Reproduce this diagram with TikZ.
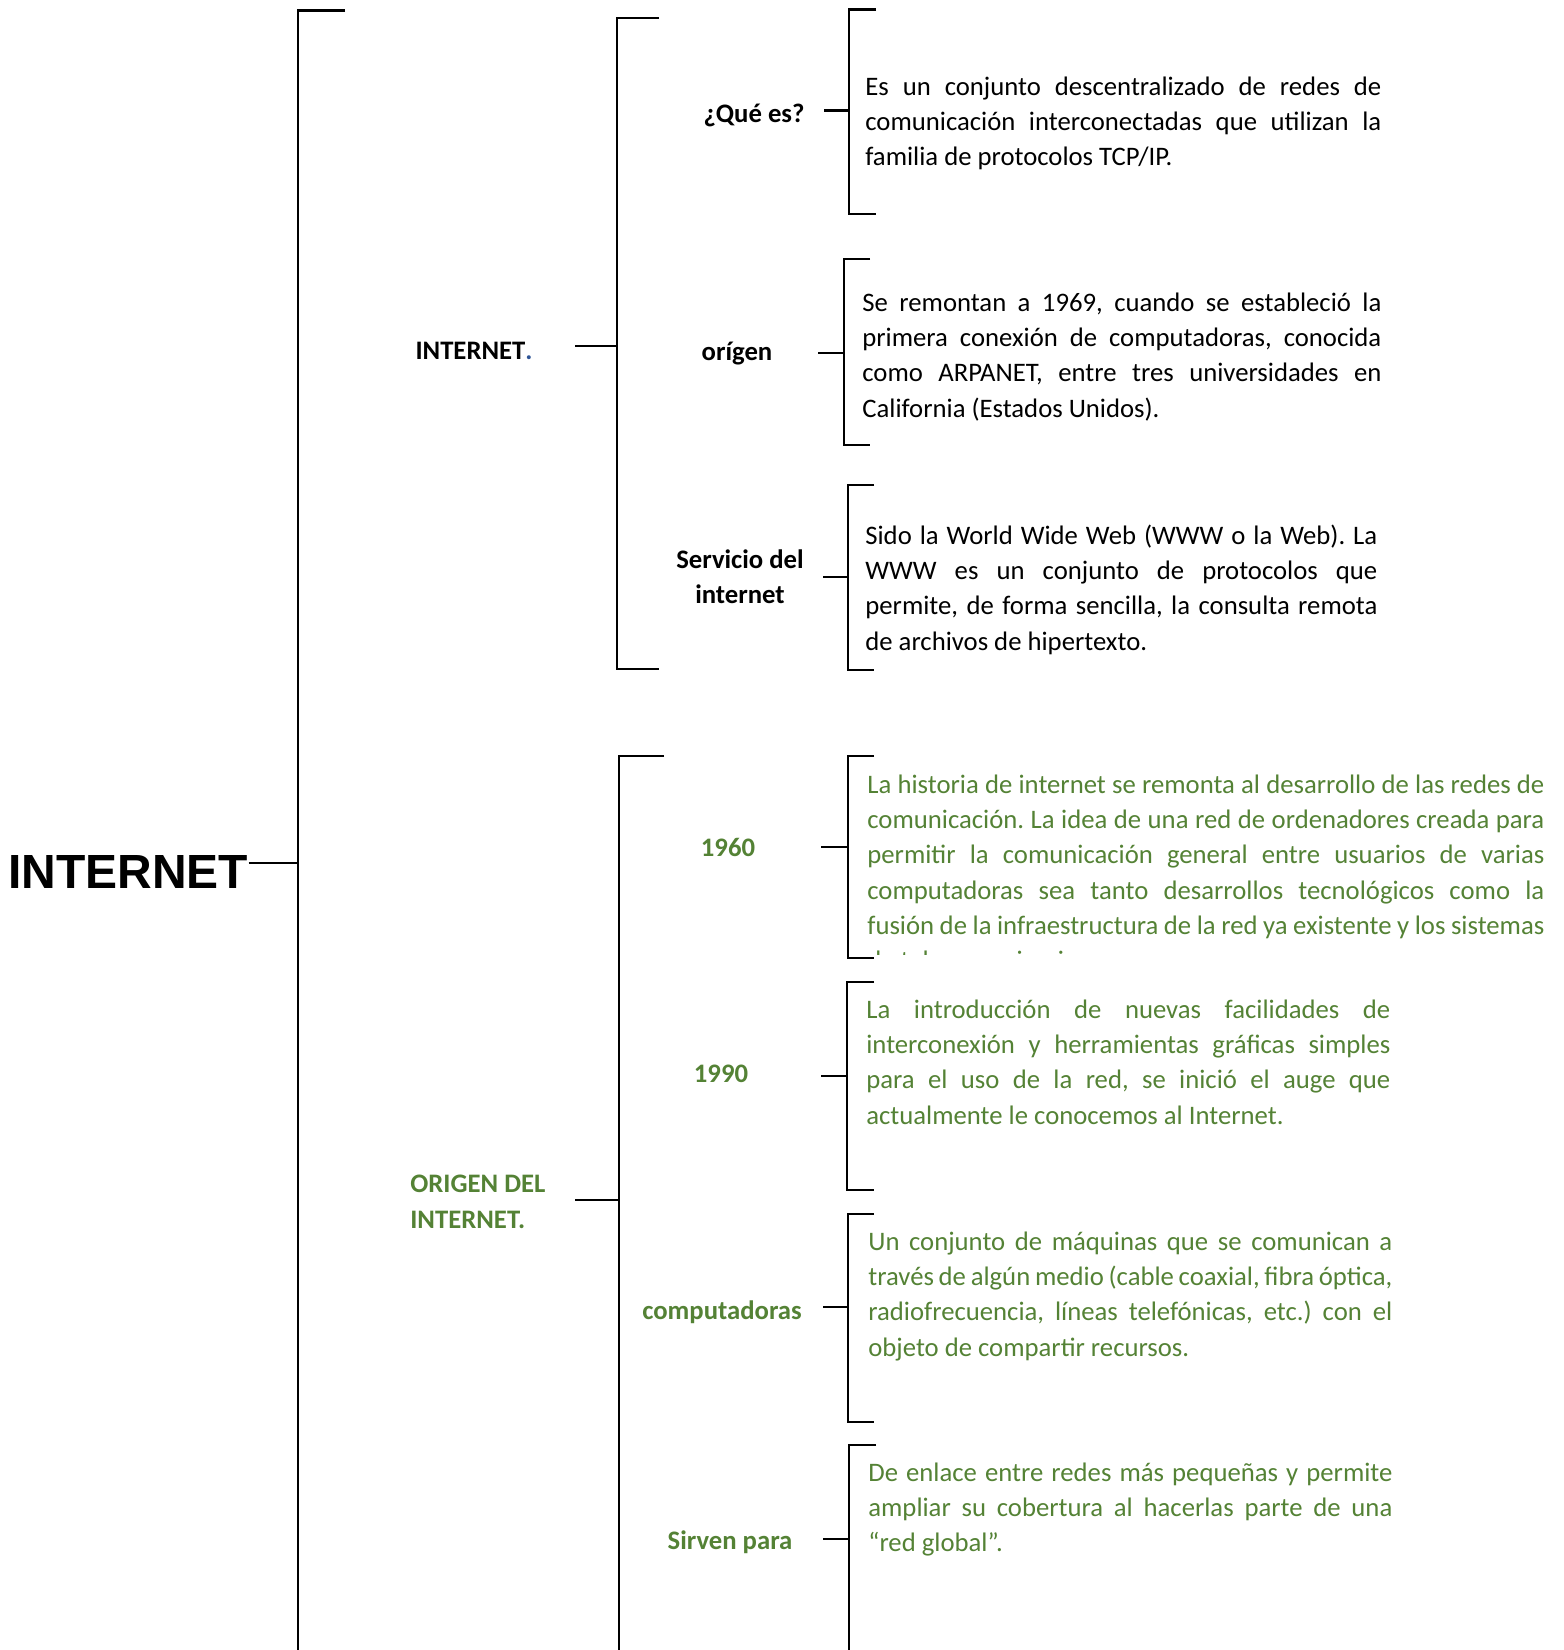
\documentclass[tikz,border=0pt]{standalone}
\usepackage{fontspec}
\setmainfont{Carlito}
\newfontfamily\headfont{Liberation Sans}
\usepackage{xcolor}
\usepackage{tikz}

\definecolor{leaf}{HTML}{548235}
\definecolor{dotblue}{HTML}{2F5496}

\begin{document}
\fontsize{15.2}{20.1}\selectfont\frenchspacing
\begin{tikzpicture}[x=0.02cm,y=-0.02cm,
	brak/.style={line width=1.6pt},
	lbl/.style={inner sep=0pt,anchor=north,align=center,font=\bfseries,execute at begin node=\strut},
	txt/.style={inner sep=0pt,anchor=north west,align=justify,execute at begin node=\strut}]

\useasboundingbox (0,0) rectangle (1563,1650);

% main bracket
\draw[brak] (345,10.5)--(298,10.5)--(298,1650);
\coordinate (mainJ) at (298,863);
\node[inner sep=0pt,anchor=base west,font=\fontsize{27.3}{30}\headfont\bfseries] (title) at (8,888) {INTERNET};
\draw[brak] (title.east |- mainJ)--(mainJ);

% second level
\draw[brak] (659,18)--(617,18)--(617,669)--(659,669);
\draw[brak] (664,756)--(619,756)--(619,1650);

\node[lbl] (inet) at (474,334) {INTERNET\textcolor{dotblue}{.}};
\coordinate (inetL) at (575,346);
\coordinate (inetJ) at (617,346);
\draw[brak] (inetL)--(inetJ);

\node[lbl,anchor=north west,align=left,text=leaf] (orig) at (410,1175) {ORIGEN DEL\\INTERNET.};
\coordinate (origL) at (575,1200);
\coordinate (origJ) at (619,1200);
\draw[brak] (origL)--(origJ);

% third level brackets
\foreach \x/\t/\b/\e in {849/9.5/214/876, 844/259/445/870, 848/485/670/874,
	848/756/958/874, 847/982/1190/874, 848/1214/1422/874}{
	\draw[brak] (\e,\t)--(\x,\t)--(\x,\b)--(\e,\b);
}
\draw[brak] (876,1445)--(849,1445)--(849,1650);

% labels and connectors
\node[lbl] (que) at (754,97) {¿Qué es?};
\node[lbl] (origen) at (737,335) {orígen};
\node[lbl] (serv) at (740,549) {Servicio del\\internet};
\node[lbl,text=leaf] (y60) at (728,831) {1960};
\node[lbl,text=leaf] (y90) at (721,1057) {1990};
\node[lbl,text=leaf] (comp) at (722,1294) {computadoras};
\node[lbl,text=leaf] (sirv) at (730,1524) {Sirven para};

\foreach \n/\a/\b/\y in {que/824/849/110.5, origen/818/844/353, serv/823/848/577,
	y60/821/848/847, y90/821/847/1076, comp/823/848/1307, sirv/823/849/1539}{
	\coordinate (\n L) at (\a,\y);
	\coordinate (\n J) at (\b,\y);
	\draw[brak] (\n L)--(\n J);
}

% texts
\node[txt,text width=516*0.02cm] (queT) at (865,70) {Es un conjunto descentralizado de redes de \linebreak comunicación interconectadas que utilizan la \linebreak familia de protocolos TCP/IP.};
\node[txt,text width=519*0.02cm] (origenT) at (862,286) {Se remontan a 1969, cuando se estableció la \linebreak primera conexión de computadoras, conocida \linebreak como ARPANET, entre tres universidades en \linebreak California (Estados Unidos).};
\node[txt,text width=512*0.02cm] (servT) at (865,519) {Sido la World Wide Web (WWW o la Web). La \linebreak WWW es un conjunto de protocolos que \linebreak permite, de forma sencilla, la consulta remota \linebreak de archivos de hipertexto.};

\begin{scope}
\clip (855,700) rectangle (1563,954);
\node[txt,text width=677*0.02cm,text=leaf] (y60T) at (867,768) {La historia de internet se remonta al desarrollo de las redes de \linebreak comunicación. La idea de una red de ordenadores creada para \linebreak permitir la comunicación general entre usuarios de varias \linebreak computadoras sea tanto desarrollos tecnológicos como la \linebreak fusión de la infraestructura de la red ya existente y los sistemas \linebreak de telecomunicaciones.};
\end{scope}

\node[txt,text width=524*0.02cm,text=leaf] (y90T) at (866,993) {La introducción de nuevas facilidades de \linebreak interconexión y herramientas gráficas simples \linebreak para el uso de la red, se inició el auge que \linebreak actualmente le conocemos al Internet.};
\node[txt,text width=524*0.02cm,text=leaf] (compT) at (868,1225) {Un conjunto de máquinas que se comunican a \linebreak través de algún medio (cable coaxial, fibra óptica, \linebreak radiofrecuencia, líneas telefónicas, etc.) con el \linebreak objeto de compartir recursos.};
\node[txt,text width=524*0.02cm,text=leaf] (sirvT) at (868,1456) {De enlace entre redes más pequeñas y permite \linebreak ampliar su cobertura al hacerlas parte de una \linebreak “red global”.};

\end{tikzpicture}
\end{document}
